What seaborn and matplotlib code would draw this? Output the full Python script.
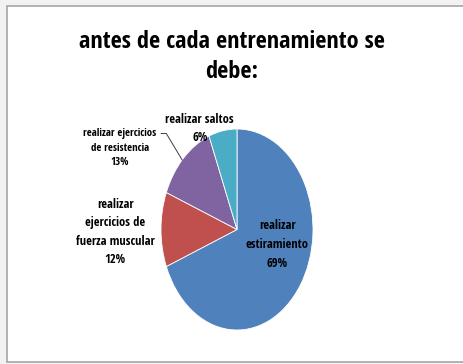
import matplotlib
matplotlib.use("Agg")
import matplotlib.pyplot as plt
import seaborn as sns
from matplotlib.patches import Rectangle

sns.set_theme(style="white")
plt.rcParams['font.family'] = ['Open Sans Condensed', 'DejaVu Sans']
plt.rcParams['text.color'] = 'black'

categories = ["realizar\nestiramiento", "realizar\nejercicios de\nfuerza muscular",
              "realizar ejercicios\nde resistencia", "realizar saltos"]
values = [69, 12, 13, 6]
pct_labels = ["69%", "12%", "13%", "6%"]
colors = ["#4F81BD", "#C0504D", "#8064A2", "#4BACC6"]
title = "antes de cada entrenamiento se\ndebe:"

W, H = 464, 364
fig = plt.figure(figsize=(W / 100, H / 100), dpi=100)
fig.patch.set_facecolor("#f2f2f2")
# chart area frame
fig.add_artist(Rectangle((7 / W, 2 / H), (W + 10) / W, (H - 7.5) / H,
                         transform=fig.transFigure, facecolor="white",
                         edgecolor="#a6a6a6", linewidth=1.2, zorder=0))

ax = fig.add_axes([161 / W, 1 - 330 / H, 152 / W, 201 / H])
wedges, _ = ax.pie(values, colors=colors, startangle=90, counterclock=False,
                   wedgeprops=dict(edgecolor="white", linewidth=0.6))
ax.set_aspect("auto")
ax.set_xlim(-1, 1)
ax.set_ylim(-1, 1)
ax.axis("off")

label_pos = [(0.53, -0.15), (-1.6, -0.025), (-1.54, 0.81), (-0.49, 1.005)]
label_fs = [9, 9, 7.8, 9]
label_ls = [1.56, 1.56, 1.42, 1.56]
for cat, pct, (x, y), fs, ls in zip(categories, pct_labels, label_pos, label_fs, label_ls):
    ax.text(x, y, cat + "\n" + pct, ha="center", va="center", fontsize=fs,
            fontweight="bold", color="black", linespacing=ls, clip_on=False)

# leader line for the resistance label
ax.plot([-1.00, -0.93, -0.72], [0.955, 0.955, 0.69], color="#404040",
        linewidth=0.7, clip_on=False)

fig.text(0.5, 1 - 57 / H, title, ha="center", va="center", fontsize=17.5,
         fontweight="bold", linespacing=1.3, color="black")

fig.savefig("out.png", dpi=100, facecolor=fig.get_facecolor())
